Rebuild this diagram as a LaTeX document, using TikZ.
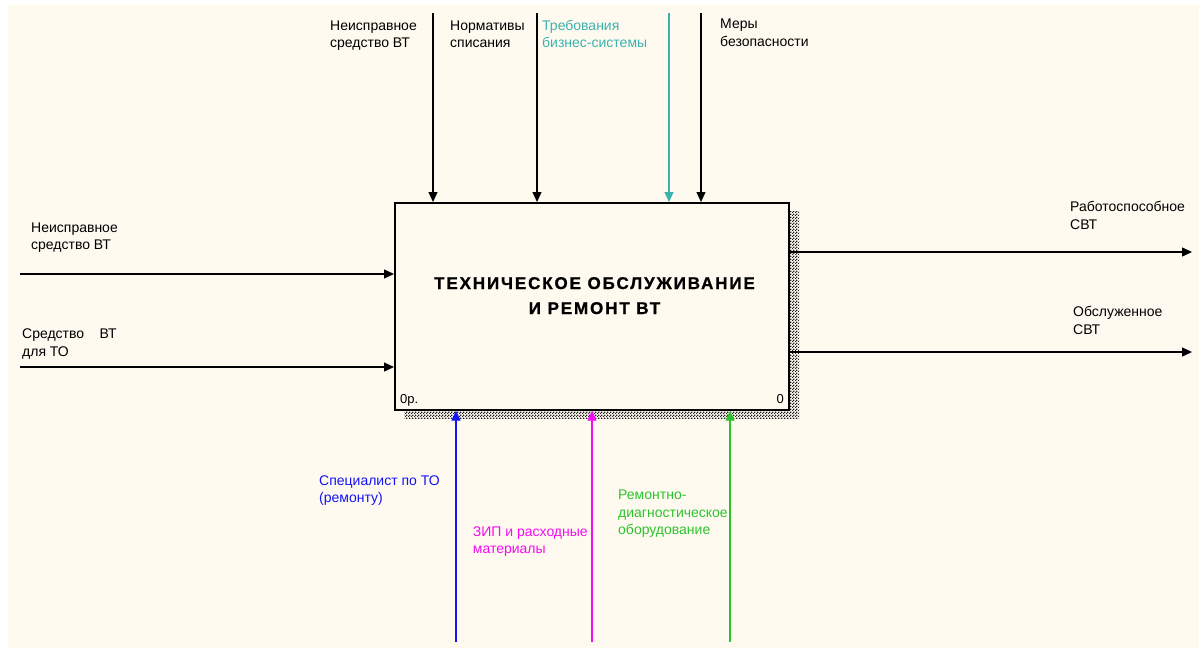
\documentclass[tikz,border=0pt]{standalone}
\usepackage{fontspec}
\setmainfont{Liberation Sans}
\usetikzlibrary{arrows.meta,patterns}

% small checker used for the IDEF0 box shadow
\pgfdeclarepatternformonly{idefshade}{\pgfpointorigin}{\pgfqpoint{3pt}{3pt}}{\pgfqpoint{3pt}{3pt}}{%
  \pgfpathrectangle{\pgfpointorigin}{\pgfqpoint{1.5pt}{1.5pt}}%
  \pgfpathrectangle{\pgfqpoint{1.5pt}{1.5pt}}{\pgfqpoint{1.5pt}{1.5pt}}%
  \pgfusepath{fill}}

\definecolor{paper}{RGB}{254,250,240}
\definecolor{tealc}{RGB}{60,178,174}
\definecolor{bluec}{RGB}{20,20,245}
\definecolor{magc}{RGB}{245,10,245}
\definecolor{greenc}{RGB}{45,195,45}

\begin{document}
\begin{tikzpicture}[x=1pt,y=-1pt,
  % labels are placed by the baseline of their last line
  lbl/.style={anchor=base west, align=left, inner sep=0pt,
              font=\fontsize{14}{17.5}\selectfont},
  flow/.style={line width=1.3pt, -{Triangle[length=10pt,width=9pt]}},
  idefbox/.style={draw, line width=1.7pt, fill=paper, inner sep=0pt,
                  minimum width=394pt, minimum height=207pt, anchor=north west}]

\useasboundingbox (0,0) rectangle (1199,648);
\fill[white] (0,0) rectangle (1199,648);
\fill[paper] (8,5) rectangle (1199,648);

% shadow and function box
\fill[pattern=idefshade, pattern color=black!90] (404,211) rectangle (799,418);
\node[idefbox] (box) at (394,202) {};
\node[anchor=base, align=center, inner sep=0pt,
      font=\fontsize{17}{25}\selectfont\bfseries\addfontfeatures{LetterSpace=11,FakeBold=1}]
  (title) at (594.5,314) {ТЕХНИЧЕСКОЕ ОБСЛУЖИВАНИЕ\\И РЕМОНТ ВТ};
\node[anchor=base west, inner sep=0pt, font=\fontsize{13}{15}\selectfont] (nodeid) at (400,403.5) {0р.};
\node[anchor=base east, inner sep=0pt, font=\fontsize{13}{15}\selectfont] (nodenum) at (784,403.5) {0};

% controls (top)
\coordinate (c1) at (433,13);
\coordinate (c2) at (537,13);
\coordinate (c3) at (669,13);
\coordinate (c4) at (701,13);
\draw[flow] (c1) -- (c1 |- box.north);
\draw[flow] (c2) -- (c2 |- box.north);
\draw[flow, tealc] (c3) -- (c3 |- box.north);
\draw[flow] (c4) -- (c4 |- box.north);
\node[lbl] (tc1) at (330,47.5) {Неисправное\\средство ВТ};
\node[lbl] (tc2) at (450,47.5) {Нормативы\\списания};
\node[lbl, text=tealc] (tc3) at (542,47.5) {Требования\\бизнес-системы};
\node[lbl] (tc4) at (720,46) {Меры\\безопасности};

% inputs (left)
\coordinate (i1) at (20,274);
\coordinate (i2) at (20,367);
\draw[flow] (i1) -- (i1 -| box.west);
\draw[flow] (i2) -- (i2 -| box.west);
\node[lbl] (li1) at (31,249.5) {Неисправное\\средство ВТ};
\node[lbl] (li2) at (22,356) {Средство\hspace*{15.5pt}ВТ\\для ТО};

% outputs (right)
\coordinate (o1) at (1192,252);
\coordinate (o2) at (1192,352);
\draw[flow] (o1 -| box.east) -- (o1);
\draw[flow] (o2 -| box.east) -- (o2);
\node[lbl] (ro1) at (1070,229) {Работоспособное\\СВТ};
\node[lbl] (ro2) at (1073,334) {Обслуженное\\СВТ};

% mechanisms (bottom)
\coordinate (m1) at (456,642);
\coordinate (m2) at (592,642);
\coordinate (m3) at (730,642);
\draw[flow, bluec] (m1) -- (m1 |- box.south);
\draw[flow, magc] (m2) -- (m2 |- box.south);
\draw[flow, greenc] (m3) -- (m3 |- box.south);
\node[lbl, text=bluec] (bm1) at (319,502.5) {Специалист по ТО\\(ремонту)};
\node[lbl, text=magc] (bm2) at (472.7,553.5) {ЗИП и расходные\\материалы};
\node[lbl, text=greenc] (bm3) at (618,534.5) {Ремонтно-\\диагностическое\\оборудование};

\end{tikzpicture}
\end{document}
